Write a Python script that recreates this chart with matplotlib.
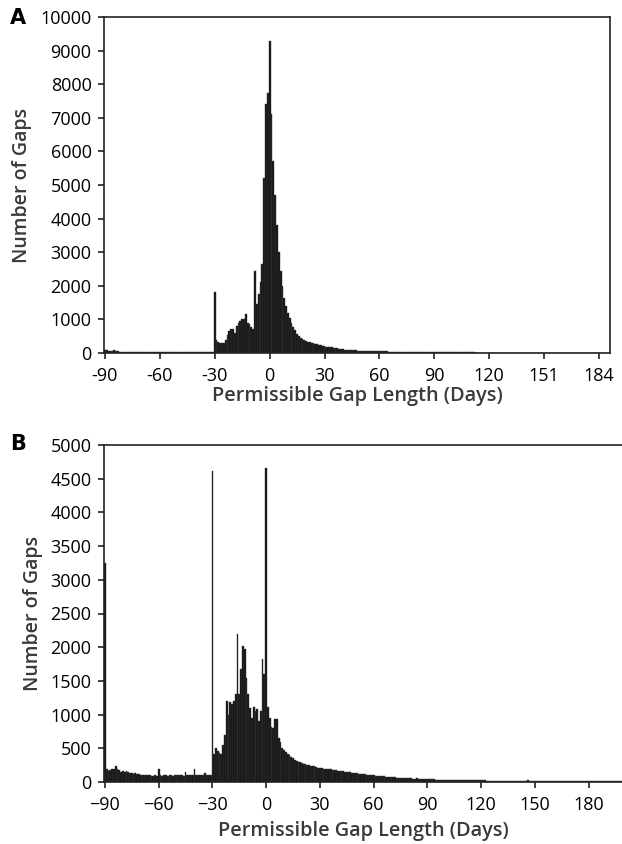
import numpy as np
import matplotlib
matplotlib.use("Agg")
import matplotlib.pyplot as plt

plt.rcParams['font.family'] = ['Open Sans', 'DejaVu Sans']

# ---- panel A: gap counts per day, -90 .. 184 (category axis) ----
a_left = [100, 90, 70, 60, 70, 75, 70, 55, 40, 35,
          30, 30, 28, 25, 25, 22, 22, 20, 20, 20,
          20, 18, 18, 18, 20, 22, 20, 18, 18, 18,
          20, 18, 18, 20, 18, 18, 18, 16, 16, 16,
          18, 18, 20, 22, 18, 18, 16, 16, 18, 18,
          20, 18, 18, 18, 20, 22, 20, 20, 18, 18]
a_core = [1820, 380, 320, 290, 290, 310, 400, 550, 640, 700,
          720, 600, 800, 900, 950, 1000, 1000, 1150, 900, 850,
          760, 700, 2450, 1450, 1750, 2100, 2650, 5200, 7400, 7750,
          9300, 7100, 5700, 4700, 3800, 3000, 2450, 2000, 1650, 1400,
          1200, 1050, 900, 780, 680, 580, 500, 450, 420, 390,
          360, 340, 320, 300, 290, 280, 270, 250, 230, 220,
          200]
a_tail = [190, 180, 175, 165, 160, 150, 140, 130, 120, 110,
          100, 95, 90, 85, 80, 80, 75, 72, 70, 68,
          66, 64, 62, 60, 60, 58, 58, 56, 56, 55,
          52, 50, 48, 46, 44, 42, 40, 40, 38, 38,
          36, 35, 34, 33, 32, 31, 30, 30, 29, 28,
          28, 27, 26, 26, 25, 25, 24, 24, 23, 23,
          22, 22, 21, 21, 20, 20, 20, 19, 19, 18,
          18, 18, 17, 17, 17, 16, 16, 16, 15, 15,
          15, 15, 14, 14, 14, 14, 13, 13, 13, 13,
          12, 12, 12, 12, 12, 12, 11, 11, 11, 11,
          11, 11, 11, 10, 10, 10, 10, 10, 10, 10,
          10, 10, 9, 9, 9, 9, 9, 9, 9, 9,
          9, 8, 8, 8, 8, 8, 8, 8, 8, 8,
          8, 8, 7, 7, 7, 7, 7, 7, 7, 7,
          7, 7, 7, 6, 6, 6, 6, 6, 6, 6,
          6, 6, 6, 5]
a_counts = a_left + a_core + a_tail
a_ticklabels = ['-90', '-60', '-30', '0', '30', '60', '90', '120', '151', '184']

# ---- panel B: gap counts per day, -90 .. 198 ----
b_left = [3250, 200, 160, 180, 190, 200, 240, 190, 180, 150,
          160, 150, 160, 150, 140, 130, 120, 130, 120, 120,
          110, 110, 100, 100, 100, 100, 90, 95, 100, 95,
          190, 100, 95, 100, 100, 95, 100, 100, 95, 100,
          100, 105, 100, 100, 95, 150, 100, 105, 110, 100,
          200, 110, 105, 110, 100, 110, 130, 110, 105, 100]
b_core = [4620, 420, 500, 460, 430, 420, 550, 700, 1200, 1000,
          1180, 1150, 1200, 1300, 2200, 1300, 1680, 2020, 1980, 1550,
          1300, 1100, 950, 1120, 1050, 1080, 900, 1050, 1830, 1600,
          4660, 1120, 950, 820, 800, 930, 930, 650, 600, 500,
          470, 440, 420, 400, 370, 350, 330, 310, 300, 290,
          280, 270, 260, 250, 245, 240, 230, 230, 220, 215,
          210]
b_tail = [205, 200, 200, 195, 190, 190, 185, 180, 175, 170,
          165, 160, 160, 155, 150, 150, 145, 140, 135, 130,
          130, 125, 120, 120, 115, 110, 110, 105, 100, 100,
          95, 92, 90, 88, 85, 82, 80, 78, 75, 72,
          70, 68, 66, 64, 62, 60, 58, 56, 55, 54,
          52, 50, 48, 60, 46, 45, 44, 43, 42, 41,
          40, 40, 38, 38, 37, 36, 35, 35, 34, 33,
          33, 32, 31, 31, 30, 30, 29, 29, 28, 28,
          27, 27, 26, 26, 36, 25, 25, 24, 24, 24,
          23, 23, 22, 22, 22, 21, 21, 21, 20, 20,
          20, 20, 19, 19, 19, 18, 18, 18, 18, 17,
          17, 17, 17, 16, 16, 25, 16, 15, 15, 15,
          15, 15, 14, 14, 14, 14, 14, 13, 13, 13,
          13, 13, 12, 12, 12, 20, 12, 12, 11, 11,
          11, 11, 11, 11, 10, 10, 10, 10, 18, 10,
          10, 10, 9, 9, 9, 9, 9, 9, 9, 9,
          8, 8, 8, 8, 8, 8, 8, 8]
b_counts = b_left + b_core + b_tail
b_days = np.arange(-90, -90 + len(b_counts))
b_ticks = [-90, -60, -30, 0, 30, 60, 90, 120, 150, 180]

xlabel = 'Permissible Gap Length (Days)'
ylabel = 'Number of Gaps'
label_col = '#3a3a3a'

fig = plt.figure(figsize=(6.22, 8.44), dpi=100)
W, H = 622, 844

# panel A
axA = fig.add_axes([104 / W, 1 - 353 / H, (610 - 104) / W, (353 - 17) / H])
idx = np.arange(len(a_counts))
axA.bar(idx, a_counts, width=1.0, color='#111111', edgecolor='#3d3d3d', linewidth=0.3)
axA.set_xlim(-0.5, 276)
axA.set_ylim(0, 10000)
axA.set_yticks(np.arange(0, 10001, 1000))
axA.set_xticks(np.arange(0, 271, 30))
axA.set_xticklabels(a_ticklabels)
axA.set_xlabel(xlabel, fontsize=14.3, fontweight='semibold', color=label_col, labelpad=1)
axA.set_ylabel(ylabel, fontsize=14, fontweight='semibold', color=label_col)
axA.yaxis.set_label_coords(-0.142, 0.5)
fig.text(18 / W, 1 - 18 / H, 'A', fontsize=15, fontweight='bold', family='DejaVu Sans',
         ha='center', va='center')

# panel B
axB = fig.add_axes([104 / W, 1 - 782 / H, (W - 104) / W, (782 - 445) / H])
axB.bar(b_days, b_counts, width=1.0, color='#111111', edgecolor='#3d3d3d', linewidth=0.3)
axB.set_xlim(-90.5, 198.6)
axB.set_ylim(0, 5000)
axB.set_yticks(np.arange(0, 5001, 500))
axB.set_xticks(b_ticks)
axB.spines['right'].set_visible(False)
axB.set_xlabel(xlabel, fontsize=14.3, fontweight='semibold', color=label_col, labelpad=5)
axB.set_ylabel(ylabel, fontsize=14, fontweight='semibold', color=label_col)
axB.yaxis.set_label_coords(-0.118, 0.5)
fig.text(18 / W, 1 - 444 / H, 'B', fontsize=15, fontweight='bold', family='DejaVu Sans',
         ha='center', va='center')

for ax in (axA, axB):
    for s in ax.spines.values():
        s.set_linewidth(1.2)
        s.set_color('#222222')
    ax.tick_params(axis='both', direction='out', length=4, width=1.2, labelsize=13,
                   colors='#222222', labelcolor='black')
    ax.tick_params(axis='x', pad=6)
    ax.tick_params(axis='y', pad=5)

fig.savefig('out.png', dpi=100)
